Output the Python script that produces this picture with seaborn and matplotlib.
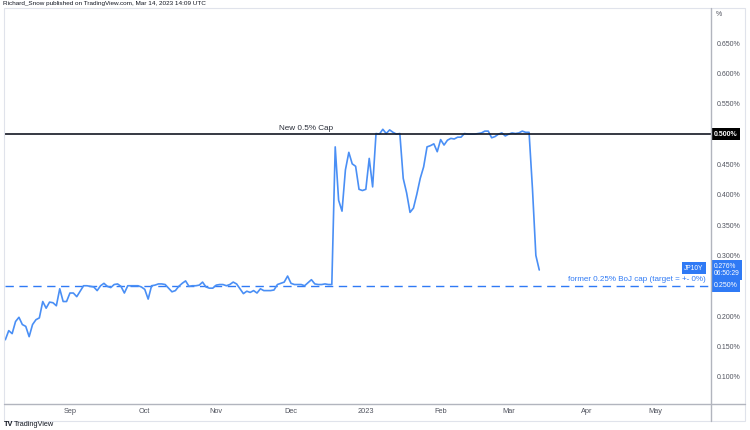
import numpy as np
import pandas as pd
import matplotlib.pyplot as plt
import matplotlib.transforms as mtransforms
from matplotlib.lines import Line2D
from matplotlib.patches import Rectangle
import seaborn as sns

# JP10Y daily closes (%), 5 Aug 2022 -> 14 Mar 2023, one value per trading bar
jp10y = [
    0.161, 0.176, 0.171, 0.191, 0.198, 0.186, 0.183, 0.166, 0.186, 0.194,
    0.197, 0.224, 0.213, 0.223, 0.222, 0.217, 0.245, 0.224, 0.224, 0.238,
    0.238, 0.232, 0.241, 0.250, 0.250, 0.249, 0.248, 0.242, 0.250, 0.254,
    0.249, 0.247, 0.252, 0.253, 0.249, 0.238, 0.250, 0.250, 0.250, 0.250,
    0.248, 0.244, 0.228, 0.250, 0.251, 0.253, 0.253, 0.252, 0.246, 0.240,
    0.242, 0.249, 0.254, 0.258, 0.249, 0.250, 0.250, 0.251, 0.256, 0.248,
    0.246, 0.246, 0.251, 0.252, 0.252, 0.250, 0.252, 0.256, 0.253, 0.245,
    0.237, 0.241, 0.239, 0.242, 0.238, 0.245, 0.242, 0.242, 0.242, 0.243,
    0.252, 0.254, 0.256, 0.266, 0.254, 0.252, 0.252, 0.252, 0.250, 0.255,
    0.260, 0.253, 0.252, 0.252, 0.253, 0.252, 0.252,
    0.479, 0.391, 0.373, 0.441, 0.470, 0.451, 0.447, 0.409, 0.407, 0.409,
    0.460, 0.413, 0.501, 0.500, 0.508, 0.501, 0.507, 0.503, 0.500, 0.501,
    0.427, 0.403, 0.371, 0.378, 0.401, 0.427, 0.446, 0.479, 0.481, 0.484,
    0.471, 0.491, 0.482, 0.490, 0.493, 0.492, 0.495, 0.495, 0.501, 0.500,
    0.500, 0.500, 0.501, 0.502, 0.505, 0.505, 0.494, 0.496, 0.500, 0.502,
    0.497, 0.500, 0.502, 0.501, 0.502, 0.505, 0.503, 0.503,
    0.410, 0.300, 0.276,
]
month_labels = ["Sep", "Oct", "Nov", "Dec", "2023", "Feb", "Mar", "Apr", "May"]
month_starts = ["2022-09", "2022-10", "2022-11", "2022-12", "2023-01",
                "2023-02", "2023-03", "2023-04", "2023-05"]
y_ticks = [0.10, 0.15, 0.20, 0.30, 0.35, 0.40, 0.45, 0.55, 0.60, 0.65]
new_cap = 0.50
old_cap = 0.25
last_value = 0.276

# bar axis: TradingView spaces bars evenly, so plot against bar index
bars = pd.bdate_range("2022-08-05", "2023-05-31")
df = pd.DataFrame({"date": bars[:len(jp10y)], "yield": jp10y})
df["bar"] = np.arange(len(df))
month_pos = [int(np.argmax(bars.strftime("%Y-%m") == m)) for m in month_starts]

sns.set_theme(style="white")
plt.rcParams["font.family"] = ["Liberation Sans", "DejaVu Sans"]

W, H = 750, 430
fig = plt.figure(figsize=(W / 100, H / 100), dpi=100)
ax = fig.add_axes([5 / W, 1 - 404 / H, 706 / W, 396 / H])

line_blue = "#4a8ff5"
badge_blue = "#2f7af5"
grey = "#50535e"

sns.lineplot(data=df, x="bar", y="yield", ax=ax, color=line_blue, linewidth=1.2)
ax.axhline(new_cap, color="#131722", linewidth=1.2, zorder=3)
ax.axhline(old_cap, color=badge_blue, linewidth=1.0, linestyle=(0, (6, 4)), zorder=1)

ax.set_xlim(-0.1, 207.5)
ax.set_ylim(0.055, 0.708)
ax.set_xlabel("")
ax.set_ylabel("")
for s in ax.spines.values():
    s.set_visible(False)

ax.set_xticks(month_pos)
ax.set_xticklabels(month_labels)
ax.yaxis.tick_right()
ax.set_yticks(y_ticks)
ax.set_yticklabels([f"{v:.3f}%" for v in y_ticks])
ax.tick_params(axis="x", length=0, pad=3, labelsize=5.3, labelcolor=grey)
ax.tick_params(axis="y", length=0, pad=4, labelsize=5.0, labelcolor=grey)

yt = mtransforms.blended_transform_factory(ax.transAxes, ax.transData)
ax.text(0.426, new_cap + 0.004, "New 0.5% Cap", transform=yt,
        fontsize=5.9, color="#2a2e39", ha="center", va="bottom")
ax.text(0.993, old_cap + 0.005, "former 0.25% BoJ cap (target = +- 0%)", transform=yt,
        fontsize=5.8, color=badge_blue, ha="right", va="bottom")

# price-scale badges
ax.text(1.004, new_cap, "0.500%", transform=yt, fontsize=5.0, color="white", fontweight="bold",
        ha="left", va="center", clip_on=False,
        bbox=dict(boxstyle="square,pad=0.4", fc="black", ec="none"))
ax.text(1.004, last_value, "0.276%\n06:50:29", transform=yt, fontsize=4.8, color="white",
        ha="left", va="center", clip_on=False, linespacing=1.1,
        bbox=dict(boxstyle="square,pad=0.4", fc=badge_blue, ec="none"))
ax.text(1.004, old_cap, "0.250%", transform=yt, fontsize=5.0, color="white",
        ha="left", va="center", clip_on=False,
        bbox=dict(boxstyle="square,pad=0.4", fc=badge_blue, ec="none"))
ax.text(0.9895, last_value + 0.003, "JP10Y", transform=yt, fontsize=4.8, color="white",
        ha="right", va="center",
        bbox=dict(boxstyle="square,pad=0.4", fc=badge_blue, ec="none"))

# frame of the TradingView panel
fig.add_artist(Rectangle((4 / W, 1 - 421 / H), 741 / W, 413 / H, transform=fig.transFigure,
                         fill=False, ec="#e0e3eb", lw=0.8))
fig.add_artist(Line2D([711 / W, 711 / W], [1 - 8 / H, 1 - 421 / H], transform=fig.transFigure,
                      color="#b2b5be", lw=1.0))
fig.add_artist(Line2D([4 / W, 745 / W], [1 - 404 / H, 1 - 404 / H], transform=fig.transFigure,
                      color="#b2b5be", lw=1.0))

fig.text(716 / W, 1 - 15 / H, "%", fontsize=5.0, color=grey, va="center", ha="left")
fig.text(3 / W, 1 - 3 / H, "Richard_Snow published on TradingView.com, Mar 14, 2023 14:09 UTC",
         fontsize=4.6, color="#131722", va="center", ha="left")
fig.text(4 / W, 1 - 425 / H, "TV", fontsize=5.3, color="#131722", fontweight="bold", va="center", ha="left")
fig.text(14 / W, 1 - 425 / H, "TradingView", fontsize=5.3, color="#131722", va="center", ha="left")

fig.savefig("out.png", dpi=100, facecolor="white")
